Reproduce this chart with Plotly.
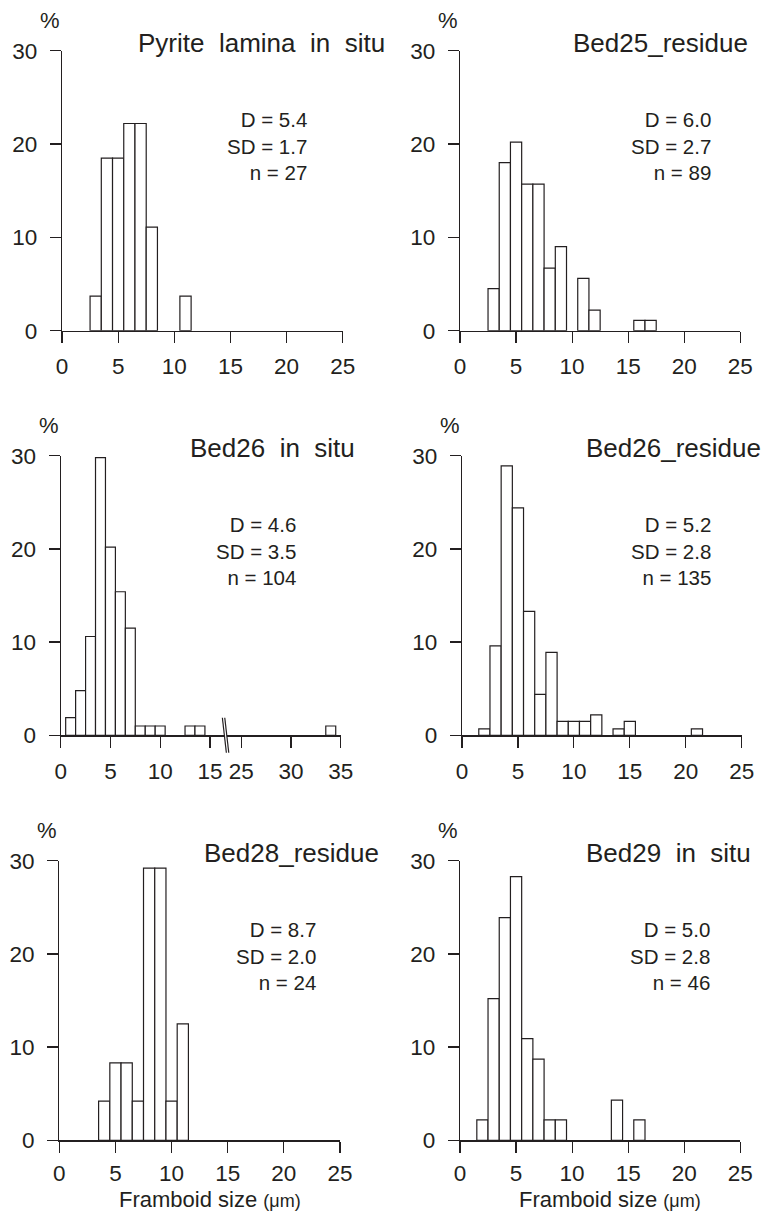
import plotly.graph_objects as go

W, H = 765, 1213

# ---------------- data ----------------
titles = ["Pyrite  lamina  in  situ", "Bed25_residue", "Bed26  in  situ",
          "Bed26_residue", "Bed28_residue", "Bed29  in  situ"]
D_vals = [5.4, 6.0, 4.6, 5.2, 8.7, 5.0]
SD_vals = [1.7, 2.7, 3.5, 2.8, 2.0, 2.8]
n_vals = [27, 89, 104, 135, 24, 46]

# framboid size classes (um, bin centre) and percentage of framboids
pyrite_size = [3, 4, 5, 6, 7, 8, 11]
pyrite_pct = [3.7, 18.5, 18.5, 22.2, 22.2, 11.1, 3.7]

bed25r_size = [3, 4, 5, 6, 7, 8, 9, 11, 12, 16, 17]
bed25r_pct = [4.5, 18.0, 20.2, 15.7, 15.7, 6.7, 9.0, 5.6, 2.2, 1.1, 1.1]

bed26s_size = [1, 2, 3, 4, 5, 6, 7, 8, 9, 10, 13, 14, 34]
bed26s_pct = [1.9, 4.8, 10.6, 29.8, 20.2, 15.4, 11.5, 1.0, 1.0, 1.0, 1.0, 1.0, 1.0]

bed26r_size = [2, 3, 4, 5, 6, 7, 8, 9, 10, 11, 12, 14, 15, 21]
bed26r_pct = [0.7, 9.6, 28.9, 24.4, 13.3, 4.4, 8.9, 1.5, 1.5, 1.5, 2.2, 0.7, 1.5, 0.7]

bed28r_size = [4, 5, 6, 7, 8, 9, 10, 11]
bed28r_pct = [4.2, 8.3, 8.3, 4.2, 29.2, 29.2, 4.2, 12.5]

bed29s_size = [2, 3, 4, 5, 6, 7, 8, 9, 14, 16]
bed29s_pct = [2.2, 15.2, 23.9, 28.3, 10.9, 8.7, 2.2, 2.2, 4.3, 2.2]

x_ticks = [0, 5, 10, 15, 20, 25]
x_ticks_broken = [0, 5, 10, 15, 25, 30, 35]
y_ticks = [0, 10, 20, 30]
x_max = 25
x_max_broken = 35
y_max = 30

# ---------------- styling / geometry ----------------
FONT = "Liberation Sans, Arial, Helvetica, sans-serif"
C = "#231f20"
LW = 1.2
TICK_FS = 22.5

# axis break for panel 3: values >= 25 are drawn shifted left by this amount
BREAK_LOW, BREAK_HIGH = 15, 25
BREAK_SHIFT = 6.85


def brk(v):
    return v - BREAK_SHIFT if v >= BREAK_HIGH else v


# pixel frames of the six plot areas: (x_left, x_right, y_top, y_bottom)
frames = [
    (62.0, 342.7, 50.7, 330.7),
    (460.0, 740.3, 50.7, 330.7),
    (60.7, 340.7, 455.7, 735.3),
    (462.0, 741.7, 455.7, 735.3),
    (59.3, 340.0, 860.7, 1140.3),
    (460.0, 740.3, 860.7, 1140.3),
]
title_left = [136, 571, 188, 584, 202, 584]
stats_right = [309.3, 713.3, 297.7, 713.3, 318.3, 711.7]
xlabel_centre = {4: 210, 5: 610}


def px(x):
    return x / W


def py(y):
    return 1 - y / H


series = [
    (pyrite_size, pyrite_pct),
    (bed25r_size, bed25r_pct),
    (bed26s_size, bed26s_pct),
    (bed26r_size, bed26r_pct),
    (bed28r_size, bed28r_pct),
    (bed29s_size, bed29s_pct),
]

fig = go.Figure()
annotations = []
shapes = []
layout_axes = {}

for i, ((sizes, pcts), (x0, x1, yt, yb)) in enumerate(zip(series, frames)):
    k = i + 1
    broken = (i == 2)
    bottom_row = i in xlabel_centre
    xs = [brk(s) for s in sizes] if broken else list(sizes)
    fig.add_trace(go.Bar(
        x=xs, y=pcts, width=1,
        marker=dict(color="white", line=dict(color=C, width=LW)),
        xaxis=f"x{k}", yaxis=f"y{k}", showlegend=False, hoverinfo="skip",
    ))
    if broken:
        tv = [brk(t) for t in x_ticks_broken]
        tt = [str(t) for t in x_ticks_broken]
        xr = [0, brk(x_max_broken)]
    else:
        tv = x_ticks
        tt = [str(t) for t in x_ticks]
        xr = [0, x_max]
    common = dict(showline=True, linecolor=C, linewidth=LW, ticks="outside",
                  ticklen=11, tickwidth=LW, tickcolor=C, showgrid=False,
                  zeroline=False, fixedrange=True, automargin=False,
                  tickfont=dict(family=FONT, size=TICK_FS, color=C))
    layout_axes[f"xaxis{k}"] = dict(domain=[px(x0), px(x1)], range=xr,
                                    anchor=f"y{k}", tickmode="array",
                                    tickvals=tv, ticktext=tt,
                                    ticklabelstandoff=1 if bottom_row else 4,
                                    **common)
    layout_axes[f"yaxis{k}"] = dict(domain=[py(yb), py(yt)], range=[0, y_max],
                                    anchor=f"x{k}", tickmode="array",
                                    tickvals=y_ticks,
                                    ticktext=[str(t) for t in y_ticks],
                                    ticklabelstandoff=8, **common)
    # % unit label
    annotations.append(dict(text="%", x=px(x0), y=py(yt - 30), xref="paper",
                            yref="paper", xanchor="right", yanchor="middle",
                            showarrow=False,
                            font=dict(family=FONT, size=22, color=C)))
    # panel title
    annotations.append(dict(text=titles[i], x=px(title_left[i]), y=py(yt - 7.5),
                            xref="paper", yref="paper", xanchor="left",
                            yanchor="middle", showarrow=False,
                            font=dict(family=FONT, size=26, color=C)))
    # statistics
    annotations.append(dict(
        text=f"D = {D_vals[i]:.1f}<br>SD = {SD_vals[i]:.1f}<br>n = {n_vals[i]}",
        x=px(stats_right[i]), y=py(yt + 95.7), xref="paper", yref="paper",
        xanchor="right", yanchor="middle", align="right", showarrow=False,
        font=dict(family=FONT, size=20.5, color=C)))
    if bottom_row:
        annotations.append(dict(
            text="Framboid size <span style='font-size:18px'>(μm)</span>",
            x=px(xlabel_centre[i]), y=py(yb + 59.3), xref="paper", yref="paper",
            xanchor="center", yanchor="middle", showarrow=False, borderpad=0,
            font=dict(family=FONT, size=22, color=C)))
    if broken:
        # axis-break marks between 15 and 25
        scale = (x1 - x0) / (xr[1] - xr[0])
        cx = x0 + scale * (BREAK_LOW + brk(BREAK_HIGH)) / 2
        half_h, slant, gap = 17.5, 2.0, 2.4
        la, lb = cx - gap / 2, cx + gap / 2
        shapes.append(dict(
            type="path", xref="paper", yref="paper",
            path=(f"M {px(la - slant)},{py(yb - half_h)} L {px(lb - slant)},{py(yb - half_h)} "
                  f"L {px(lb + slant)},{py(yb + half_h)} L {px(la + slant)},{py(yb + half_h)} Z"),
            fillcolor="white", line=dict(width=0)))
        for lx in (la, lb):
            shapes.append(dict(type="line", xref="paper", yref="paper",
                               x0=px(lx - slant), y0=py(yb - half_h),
                               x1=px(lx + slant), y1=py(yb + half_h),
                               line=dict(color=C, width=LW)))

fig.update_layout(
    width=W, height=H,
    margin=dict(l=0, r=0, t=0, b=0, pad=0, autoexpand=False),
    paper_bgcolor="white", plot_bgcolor="white",
    annotations=annotations, shapes=shapes, showlegend=False,
    bargap=0, font=dict(family=FONT, color=C),
    **layout_axes,
)

fig.write_html(
    "out.html",
    config={"displayModeBar": False, "staticPlot": True},
    post_script="document.body.style.margin='0';document.body.style.overflow='hidden';",
)
